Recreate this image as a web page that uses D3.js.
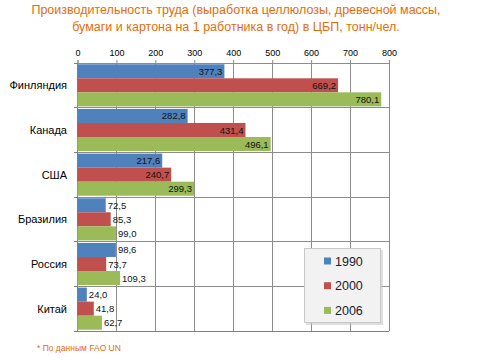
<!DOCTYPE html>
<html><head><meta charset="utf-8">
<script src="https://cdn.jsdelivr.net/npm/d3@7"></script>
<style>body{margin:0;background:#fff}svg{display:block}</style>
</head><body>
<svg id="c" width="480" height="360"></svg>
<script>
const categories = ["Финляндия","Канада","США","Бразилия","Россия","Китай"];
const seriesNames = ["1990","2000","2006"];
const v1990 = [377.3,282.8,217.6,72.5,98.6,24.0];
const v2000 = [669.2,431.4,240.7,85.3,73.7,41.8];
const v2006 = [780.1,496.1,299.3,99.0,109.3,62.7];
const xTicks = [0,100,200,300,400,500,600,700,800];
const colors = ["#4F81BD","#C0504D","#9BBB59"];
const titleLines = ["Производительность труда (выработка  целлюлозы, древесной массы,","бумаги и картона  на 1 работника  в год) в ЦБП, тонн/чел."];
const footnote = "* По данным  FAO  UN";

const series = [v1990, v2000, v2006];
const svg = d3.select("#c");
const font = "'Liberation Sans', Arial, sans-serif";
const L = 77.5, R = 389, T = 63, B = 331;

const x = d3.scaleLinear().domain([0,800]).range([L,R]);
const y = d3.scaleBand().domain(categories).range([T,B]).paddingInner(0).paddingOuter(0);
const inner = d3.scaleBand().domain(seriesNames).range([0,y.bandwidth()]).paddingInner(0).paddingOuter(0.09);

// title
svg.append("g").selectAll("text").data(titleLines).join("text")
  .attr("x",236).attr("y",(d,i)=>14+i*17).attr("text-anchor","middle")
  .attr("font-family",font).attr("font-size",12.5).attr("fill","#E46C0A").text(d=>d);

// grid
svg.append("g").selectAll("line").data(xTicks).join("line")
  .attr("x1",d=>x(d)).attr("x2",d=>x(d)).attr("y1",T).attr("y2",B)
  .attr("stroke","#8c8c8c").attr("stroke-width",1).attr("shape-rendering","crispEdges");
const bounds = d3.range(categories.length+1).map(i=>T+i*y.step());
svg.append("g").selectAll("line").data(bounds).join("line")
  .attr("x1",L).attr("x2",R).attr("y1",d=>d).attr("y2",d=>d)
  .attr("stroke","#8c8c8c").attr("stroke-width",1).attr("shape-rendering","crispEdges");

// top axis
const ax = svg.append("g").attr("transform",`translate(0,${T})`)
  .call(d3.axisTop(x).tickValues(xTicks).tickSize(3).tickPadding(4).tickFormat(d3.format("d")));
ax.select(".domain").attr("stroke","#8c8c8c");
ax.selectAll(".tick line").attr("stroke","#8c8c8c");
ax.selectAll("text").attr("font-family",font).attr("font-size",9).attr("fill","#000");

// left axis
svg.append("line").attr("x1",L).attr("x2",L).attr("y1",T).attr("y2",B)
  .attr("stroke","#808080").attr("shape-rendering","crispEdges");
svg.append("g").selectAll("line").data(bounds).join("line")
  .attr("x1",L-4).attr("x2",L).attr("y1",d=>d).attr("y2",d=>d)
  .attr("stroke","#808080").attr("shape-rendering","crispEdges");
svg.append("line").attr("x1",L-4).attr("x2",R).attr("y1",B).attr("y2",B)
  .attr("stroke","#808080").attr("shape-rendering","crispEdges");

svg.append("g").selectAll("text").data(categories).join("text")
  .attr("x",67).attr("y",d=>y(d)+y.bandwidth()/2+4).attr("text-anchor","end")
  .attr("font-family",font).attr("font-size",11).attr("fill","#000").text(d=>d);

// bars
const fmt = v => v.toFixed(1).replace(".",",");
series.forEach((vals,si)=>{
  const g = svg.append("g");
  g.selectAll("rect").data(vals).join("rect")
    .attr("x",x(0)).attr("y",(d,i)=>y(categories[i])+inner(seriesNames[si]))
    .attr("width",d=>x(d)-x(0)).attr("height",inner.bandwidth())
    .attr("fill",colors[si]);
  g.selectAll("text").data(vals).join("text")
    .attr("x",d=> (x(d)-x(0))>60 ? x(d)-2 : x(d)+2)
    .attr("text-anchor",d=> (x(d)-x(0))>60 ? "end" : "start")
    .attr("y",(d,i)=>y(categories[i])+inner(seriesNames[si])+inner.bandwidth()/2+3.5)
    .attr("font-family",font).attr("font-size",9.5).attr("fill","#111").text(fmt);
});

// legend
const lg = svg.append("g");
lg.append("rect").attr("x",306).attr("y",250).attr("width",77).attr("height",75).attr("fill","#c8c8c8").attr("opacity",0.6);
lg.append("rect").attr("x",304.5).attr("y",248.5).attr("width",76).attr("height",74)
  .attr("fill","#f2f2f2").attr("stroke","#c8c8c8");
seriesNames.forEach((s,i)=>{
  const cy = 261 + i*24.7;
  lg.append("rect").attr("x",324).attr("y",cy-3.5).attr("width",7).attr("height",7).attr("fill",colors[i]);
  lg.append("text").attr("x",335).attr("y",cy+4.5).attr("font-family",font).attr("font-size",12.5)
    .attr("fill","#1a1a2e").text(s);
});

// footnote
svg.append("text").attr("x",37).attr("y",351).attr("font-family",font).attr("font-size",8.5)
  .attr("fill","#E46C0A").text(footnote);
</script>
</body></html>
